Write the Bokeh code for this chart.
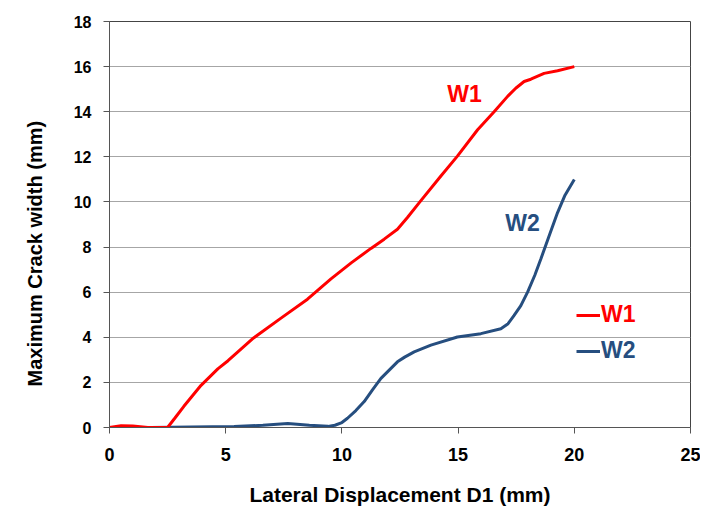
from bokeh.plotting import figure
from bokeh.models import Range1d, Legend, LegendItem, Label, FixedTicker, Title
from bokeh.embed import file_html
from bokeh.resources import INLINE

# Data
w1_x = [0, 0.5, 1.0, 1.65, 2.5, 2.8, 3.2, 3.94, 4.66, 5.1, 6.2, 7.38, 8.52, 9.53,
        10.4, 11.25, 11.82, 12.39, 12.82, 13.33, 14.26, 14.97, 15.84, 16.55, 17.13,
        17.48, 17.84, 18.13, 18.7, 19.28, 20.0]
w1_y = [0, 0.08, 0.07, 0, 0, 0.4, 0.94, 1.87, 2.6, 2.96, 3.97, 4.85, 5.69, 6.59,
        7.3, 7.94, 8.35, 8.79, 9.31, 9.97, 11.15, 12.03, 13.2, 14.0, 14.68,
        15.04, 15.34, 15.44, 15.7, 15.82, 16.0]

w2_x = [0, 1.78, 3.5, 5.36, 6.6, 7.67, 8.6, 9.4, 9.7, 10.0, 10.24, 10.6, 10.96, 11.3,
        11.68, 12.39, 12.7, 13.11, 13.83, 14.97, 15.98, 16.84, 17.15, 17.41, 17.7,
        17.99, 18.3, 18.56, 18.9, 19.28, 19.6, 20.0]
w2_y = [0, 0, 0.02, 0.04, 0.1, 0.18, 0.1, 0.05, 0.1, 0.22, 0.41, 0.75, 1.15, 1.65,
        2.18, 2.91, 3.12, 3.35, 3.65, 4.01, 4.16, 4.38, 4.6, 4.97, 5.4,
        6.0, 6.75, 7.47, 8.45, 9.53, 10.3, 11.0]

x_ticks = [0, 5, 10, 15, 20, 25]
y_ticks = [0, 2, 4, 6, 8, 10, 12, 14, 16, 18]

RED = "#FF0000"
BLUE = "#264E7F"
FONT = "Liberation Sans"

p = figure(width=700, height=508, output_backend="svg", toolbar_location=None,
           x_range=Range1d(0, 25), y_range=Range1d(0, 18),
           min_border_left=108, min_border_right=10, min_border_top=21,
           min_border_bottom=79)

p.background_fill_color = "white"
p.border_fill_color = "white"
p.outline_line_color = "#444444"
p.outline_line_width = 1

p.xgrid.grid_line_color = None
p.ygrid.grid_line_color = "#A6A6A6"
p.ygrid.grid_line_width = 1

p.xaxis.ticker = FixedTicker(ticks=x_ticks)
p.yaxis.ticker = FixedTicker(ticks=y_ticks)

for ax in (p.xaxis[0], p.yaxis[0]):
    ax.axis_line_color = "#555555"
    ax.major_tick_line_color = "#555555"
    ax.major_tick_in = 0
    ax.major_tick_out = 6
    ax.minor_tick_line_color = None
    ax.major_label_text_font = FONT
    ax.major_label_text_font_style = "bold"
    ax.major_label_text_color = "black"

p.xaxis.major_label_text_font_size = "18px"
p.yaxis.major_label_text_font_size = "16px"
p.xaxis.major_label_standoff = 14
p.yaxis.major_label_standoff = 12

p.xaxis.axis_label = "Lateral Displacement D1 (mm)"
p.xaxis.axis_label_text_font = FONT
p.xaxis.axis_label_text_font_style = "bold"
p.xaxis.axis_label_text_font_size = "21px"
p.xaxis.axis_label_text_color = "black"
p.xaxis.axis_label_standoff = 19

ytitle = Title(text="Maximum Crack width (mm)", align="left", offset=41, standoff=46,
               vertical_align="top",
               text_font=FONT, text_font_style="bold", text_font_size="20px",
               text_color="black")
p.add_layout(ytitle, "left")

r2 = p.line(w2_x, w2_y, line_color=BLUE, line_width=3)
r1 = p.line(w1_x, w1_y, line_color=RED, line_width=3)

p.add_layout(Label(x=15.28, y=14.77, text="W1", text_align="center", text_baseline="middle",
                   text_font=FONT, text_font_style="bold", text_font_size="23px",
                   text_color=RED))
p.add_layout(Label(x=17.77, y=9.08, text="W2", text_align="center", text_baseline="middle",
                   text_font=FONT, text_font_style="bold", text_font_size="23px",
                   text_color=BLUE))

def make_legend(label, rend, color, loc):
    return Legend(items=[LegendItem(label=label, renderers=[rend])], location=loc,
                  label_text_color=color, label_text_font=FONT,
                  label_text_font_style="bold", label_text_font_size="23px",
                  glyph_width=24, glyph_height=20, label_standoff=1,
                  padding=0, margin=0, spacing=0,
                  border_line_color=None, background_fill_alpha=0)

p.add_layout(make_legend("W1", r1, RED, (467, 99)))
p.add_layout(make_legend("W2", r2, BLUE, (467, 63)))

open("out.html", "w").write(file_html(p, INLINE))
